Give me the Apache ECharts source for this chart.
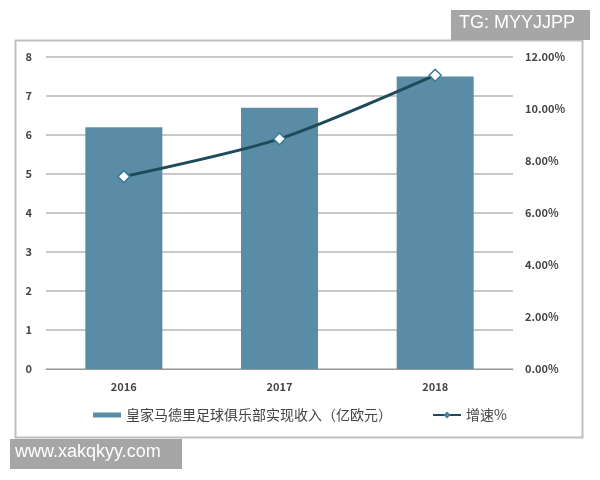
<!DOCTYPE html>
<html>
<head>
<meta charset="utf-8">
<script src="https://cdn.jsdelivr.net/npm/echarts@6/dist/echarts.min.js"></script>
<style>
html,body{margin:0;padding:0;background:#fff;}
#main{width:600px;height:480px;}
</style>
</head>
<body>
<div id="main"></div>
<script>
var categories = ['2016', '2017', '2018'];
var revenue = [6.2, 6.7, 7.5];
var growth = [7.4, 8.85, 11.3];
var leftTicks = [0, 1, 2, 3, 4, 5, 6, 7, 8];
var rightTicks = ['0.00%', '2.00%', '4.00%', '6.00%', '8.00%', '10.00%', '12.00%'];
var revenueName = '皇家马德里足球俱乐部实现收入（亿欧元）';
var growthName = '增速%';

var chart = echarts.init(document.getElementById('main'));
var font = '"Noto Sans CJK SC", "Liberation Sans", sans-serif';
chart.setOption({
  animation: false,
  backgroundColor: '#fff',
  textStyle: { fontFamily: font },
  grid: { left: 46, right: 87, top: 57, bottom: 111 },
  legend: {
    bottom: 53,
    left: 'center',
    itemGap: 40,
    itemWidth: 28,
    itemHeight: 5,
    textStyle: { fontSize: 14, color: '#444', fontFamily: font },
    data: [
      { name: revenueName, icon: 'rect' },
      { name: growthName }
    ]
  },
  xAxis: {
    type: 'category',
    data: categories,
    axisTick: { show: false },
    axisLine: { lineStyle: { color: '#999' } },
    axisLabel: { color: '#444', fontSize: 11, margin: 12, fontWeight: 'bold' }
  },
  yAxis: [
    {
      type: 'value', min: 0, max: leftTicks[leftTicks.length - 1], interval: 1,
      axisLine: { show: false }, axisTick: { show: false },
      axisLabel: { color: '#444', fontSize: 11, margin: 14, fontWeight: 'bold' },
      splitLine: { lineStyle: { color: '#c8c8c8', width: 2 } }
    },
    {
      type: 'value', min: 0, max: 12, interval: 2,
      axisLine: { show: false }, axisTick: { show: false },
      splitLine: { show: false },
      axisLabel: {
        color: '#444', fontSize: 11, margin: 12, fontWeight: 'bold',
        formatter: function (v) { return rightTicks[Math.round(v / 2)]; }
      }
    }
  ],
  series: [
    {
      name: revenueName,
      type: 'bar',
      data: revenue,
      barWidth: 77,
      itemStyle: { color: '#5a8ca5' }
    },
    {
      name: growthName,
      type: 'line',
      yAxisIndex: 1,
      data: growth,
      smooth: 0.25,
      symbol: 'diamond',
      symbolSize: 12,
      lineStyle: { color: '#1d4b5b', width: 3 },
      itemStyle: { color: '#ffffff', borderColor: '#3a7c96', borderWidth: 1.5 }
    }
  ],
  graphic: [
    {
      type: 'rect', shape: { x: 15.5, y: 40.5, width: 567, height: 397 },
      style: { fill: 'none', stroke: '#bfbfbf', lineWidth: 2 }, z: -1
    },
    {
      type: 'rect', shape: { x: 451, y: 10, width: 139, height: 30 },
      style: { fill: '#a6a6a6' }, z: 10
    },
    {
      type: 'text', left: 459, top: 14, z: 11,
      style: { text: 'TG: MYYJJPP', fill: '#fff', fontSize: 18, fontFamily: '"Liberation Sans", Arial, sans-serif' }
    },
    {
      type: 'rect', shape: { x: 10, y: 439, width: 172, height: 30 },
      style: { fill: '#a6a6a6' }, z: 10
    },
    {
      type: 'text', left: 15, top: 443, z: 11,
      style: { text: 'www.xakqkyy.com', fill: '#fff', fontSize: 18, fontFamily: '"Liberation Sans", Arial, sans-serif' }
    }
  ]
});
</script>
</body>
</html>
